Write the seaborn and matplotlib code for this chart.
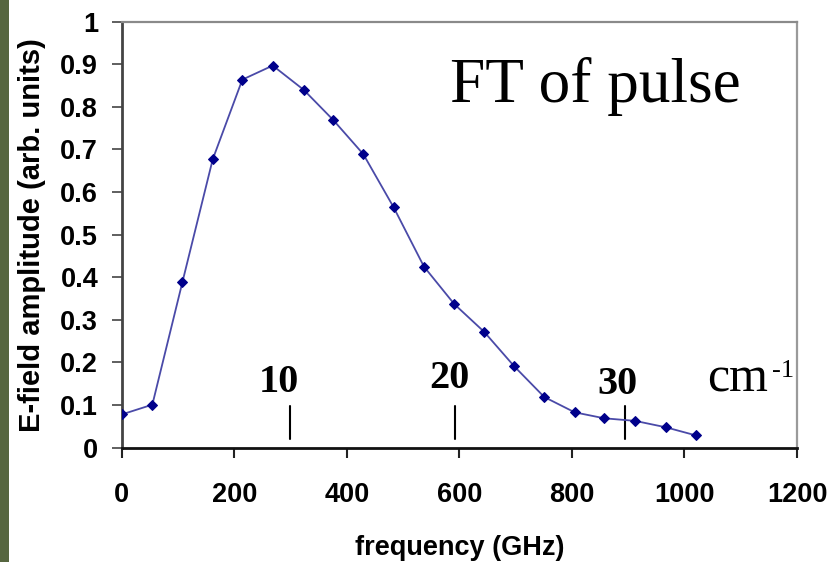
import matplotlib
matplotlib.use("Agg")
import matplotlib.pyplot as plt
import seaborn as sns
import pandas as pd
from matplotlib.patches import Rectangle

# ---- data ----
freq_ghz = [0, 54.4, 107.7, 161.7, 214.3, 268.3, 323.4, 376.0, 429.3, 483.3,
            537.1, 591.0, 644.0, 697.5, 750.8, 804.9, 857.5, 912.0, 966.6, 1019.9]
amplitude = [0.078, 0.101, 0.388, 0.677, 0.864, 0.897, 0.840, 0.769, 0.689, 0.564,
             0.425, 0.337, 0.272, 0.191, 0.119, 0.083, 0.069, 0.063, 0.048, 0.029]

wavenumber_labels = ["10", "20", "30"]
wavenumber_ghz = [298.7, 592.5, 894.0]
wavenumber_label_x = [279, 583, 880]
wavenumber_label_y = [0.131, 0.1406, 0.126]

x_ticks = [0, 200, 400, 600, 800, 1000, 1200]
y_ticks = [0, 0.1, 0.2, 0.3, 0.4, 0.5, 0.6, 0.7, 0.8, 0.9, 1.0]
y_tick_labels = ["0", "0.1", "0.2", "0.3", "0.4", "0.5", "0.6", "0.7", "0.8", "0.9", "1"]

df = pd.DataFrame({"freq": freq_ghz, "amp": amplitude})

sns.set_style("white")
plt.rcParams["font.family"] = ["Liberation Sans", "DejaVu Sans"]
plt.rcParams["text.color"] = "black"
plt.rcParams["axes.labelcolor"] = "black"

fig = plt.figure(figsize=(8.31, 5.62), dpi=100)
ax = fig.add_axes([0.1465, 0.2034, 0.8126, 0.758])

# dark strip on the left edge
fig.patches.append(Rectangle((0, 0), 9 / 831, 1, transform=fig.transFigure,
                             facecolor="#56663f", edgecolor="none", zorder=0))

sns.lineplot(data=df, x="freq", y="amp", ax=ax, color="#4a4aa8", linewidth=1.3,
             marker="D", markersize=5.5, markerfacecolor="#00008b",
             markeredgecolor="#00008b", zorder=3)

ax.set_xlim(0, 1200)
ax.set_ylim(0, 1)
ax.set_xticks(x_ticks)
ax.set_xticklabels([str(t) for t in x_ticks])
ax.set_yticks(y_ticks)
ax.set_yticklabels(y_tick_labels)

ax.tick_params(axis="x", direction="out", length=7, width=1.5, pad=18,
               labelsize=19.5, color="#222222", labelcolor="black")
ax.tick_params(axis="y", direction="out", length=7, width=1.2, pad=10,
               labelsize=19.5, color="#444444", labelcolor="black")
for lab in ax.get_xticklabels() + ax.get_yticklabels():
    lab.set_fontweight("bold")
ax.xaxis.set_tick_params(which="both", bottom=True)
ax.yaxis.set_tick_params(which="both", left=True)

ax.set_xlabel("frequency (GHz)", fontsize=19.5, fontweight="bold", labelpad=19,
              color="black")
ax.set_ylabel("E-field amplitude (arb. units)", fontsize=21, fontweight="bold",
              labelpad=10, color="black")

ax.spines["left"].set_color("#444444")
ax.spines["left"].set_linewidth(2)
ax.spines["bottom"].set_color("#111111")
ax.spines["bottom"].set_linewidth(2)
ax.spines["top"].set_color("#8a8a8a")
ax.spines["top"].set_linewidth(1.6)
ax.spines["right"].set_color("#9a9a9a")
ax.spines["right"].set_linewidth(1.6)

# wavenumber markers
for g, lx, ly, lab in zip(wavenumber_ghz, wavenumber_label_x, wavenumber_label_y,
                          wavenumber_labels):
    ax.plot([g, g], [0.021, 0.098], color="black", linewidth=1.5, zorder=2)
    ax.text(lx, ly, lab, ha="center", va="baseline", fontsize=29,
            fontweight="bold", family="Liberation Serif", color="black")

ax.text(1040, 0.133, "cm", ha="left", va="baseline", fontsize=36,
        family="Liberation Serif", color="black")
ax.text(1155, 0.166, "-1", ha="left", va="baseline", fontsize=19,
        family="Liberation Serif", color="black")

ax.text(0.486, 0.8115, "FT of pulse", transform=ax.transAxes, ha="left",
        va="baseline", fontsize=45.5, family="Liberation Serif", color="black")

fig.savefig("out.png", dpi=100)
